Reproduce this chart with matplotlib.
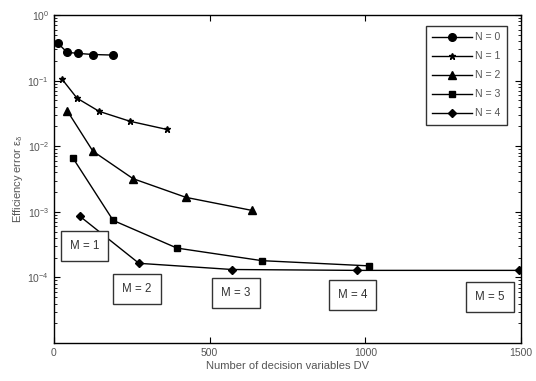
import numpy as np
from matplotlib import pyplot as plt
from matplotlib.ticker import LogLocator, NullFormatter

plt.rcParams['font.family'] = ['Liberation Sans', 'DejaVu Sans']
plt.rcParams['mathtext.fontset'] = 'custom'
plt.rcParams['mathtext.rm'] = 'Liberation Sans'
plt.rcParams['mathtext.it'] = 'Liberation Sans'

# data
dv_n0 = [13, 42, 77, 125, 190]
err_n0 = [0.37, 0.27, 0.26, 0.25, 0.245]

dv_n1 = [26, 74, 145, 244, 363]
err_n1 = [0.105, 0.054, 0.034, 0.024, 0.018]

dv_n2 = [42, 125, 254, 424, 636]
err_n2 = [0.035, 0.0084, 0.0032, 0.00166, 0.00105]

dv_n3 = [61, 190, 395, 668, 1012]
err_n3 = [0.0066, 7.4e-4, 2.8e-4, 1.8e-4, 1.5e-4]

dv_n4 = [84, 273, 572, 973, 1492]
err_n4 = [8.5e-4, 1.64e-4, 1.32e-4, 1.28e-4, 1.28e-4]

labels = ['N = 0', 'N = 1', 'N = 2', 'N = 3', 'N = 4']
m_labels = ['M = 1', 'M = 2', 'M = 3', 'M = 4', 'M = 5']
m_x = [98, 267, 585, 959, 1401]
m_y = [2.97e-4, 6.56e-5, 5.8e-5, 5.4e-5, 5.04e-5]

grey = '#555555'

fig = plt.figure(figsize=(5.36, 3.81), dpi=100)
ax = fig.add_axes([0.1007, 0.0997, 0.8713, 0.8609])

ax.plot(dv_n0, err_n0, '-o', color='k', lw=1, ms=5.5, label=labels[0])
ax.plot(dv_n1, err_n1, '-*', color='k', lw=1, ms=5, label=labels[1])
ax.plot(dv_n2, err_n2, '-^', color='k', lw=1, ms=5.5, label=labels[2])
ax.plot(dv_n3, err_n3, '-s', color='k', lw=1, ms=4.8, label=labels[3])
ax.plot(dv_n4, err_n4, '-D', color='k', lw=1, ms=4.3, label=labels[4])

for t, x, y in zip(m_labels, m_x, m_y):
    ax.text(x, y, t, fontsize=8.3, color='#333333', ha='center', va='center',
            bbox=dict(boxstyle='square,pad=0.78', fc='white', ec='#333333', lw=1))

ax.set_yscale('log')
ax.set_xlim(0, 1500)
ax.set_ylim(1e-5, 1)
ax.set_xticks([0, 500, 1000, 1500])
ax.set_yticks([1, 1e-1, 1e-2, 1e-3, 1e-4])
ax.yaxis.set_minor_locator(LogLocator(base=10, subs=np.arange(2, 10)))
ax.yaxis.set_minor_formatter(NullFormatter())

ax.tick_params(which='both', direction='in', top=True, right=True,
               labelsize=7.5, labelcolor=grey)
ax.tick_params(which='major', length=4)
ax.tick_params(which='minor', length=2)
for s in ax.spines.values():
    s.set_linewidth(1)

ax.set_xlabel('Number of decision variables DV', fontsize=8, color=grey, labelpad=2)
ax.set_ylabel(r'Efficiency error $\varepsilon_\delta$', fontsize=8, color=grey, labelpad=2)

leg = ax.legend(loc='upper right', bbox_to_anchor=(0.970, 0.966), borderaxespad=0,
                fontsize=7.6, fancybox=False, framealpha=1,
                edgecolor='#333333', handlelength=3.8, labelspacing=0.85,
                borderpad=0.6, handletextpad=0.3)
leg.get_frame().set_linewidth(1)
for t in leg.get_texts():
    t.set_color(grey)

plt.savefig('out.png', dpi=100)
